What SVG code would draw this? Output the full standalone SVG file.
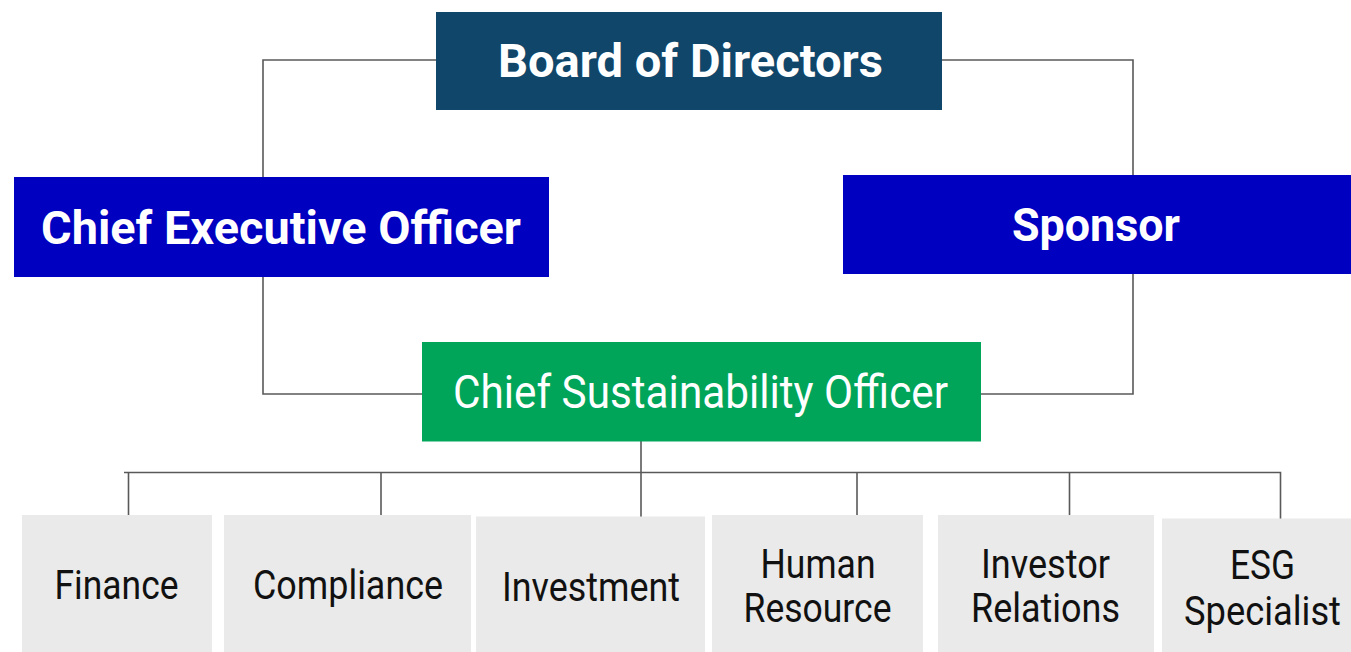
<svg xmlns="http://www.w3.org/2000/svg" width="1351" height="652" viewBox="0 0 1351 652">
<style>
.bold{font-family:Roboto,"Liberation Sans",sans-serif;font-weight:bold;font-size:46px;fill:#fff;text-anchor:middle}
.reg{font-family:Roboto,"Liberation Sans",sans-serif;font-size:46px;fill:#fff;text-anchor:middle}
.dept{font-family:Roboto,"Liberation Sans",sans-serif;font-size:40px;fill:#111;text-anchor:middle}
.box{fill:#eaeaea}
.conn{fill:none;stroke:#595959;stroke-width:1.6}
</style>
<rect width="1351" height="652" fill="#fff"/>
<g id="connectors">
<path class="conn" d="M436,60 H263 V177"/>
<path class="conn" d="M942,60 H1133 V175"/>
<path class="conn" d="M263,277 V394 H422"/>
<path class="conn" d="M1133,274 V394 H981"/>
<path class="conn" d="M641,441 V517"/>
<path class="conn" d="M124,472.5 H1280.5 V521"/>
<path class="conn" d="M128.5,472.5 V515"/>
<path class="conn" d="M381,472.5 V515"/>
<path class="conn" d="M857,472.5 V515"/>
<path class="conn" d="M1069.5,472.5 V515"/>
</g>
<g id="board">
<rect x="436" y="12" width="506" height="98" fill="#10466a"/>
<text class="bold" x="690.5" y="77" textLength="385" lengthAdjust="spacingAndGlyphs">Board of Directors</text>
</g>
<g id="ceo">
<rect x="14" y="177" width="535" height="100" fill="#0000c0"/>
<text class="bold" x="281" y="244" textLength="480" lengthAdjust="spacingAndGlyphs">Chief Executive Officer</text>
</g>
<g id="sponsor">
<rect x="843" y="175" width="508" height="99" fill="#0000c0"/>
<text class="bold" x="1096" y="241" textLength="168" lengthAdjust="spacingAndGlyphs">Sponsor</text>
</g>
<g id="cso">
<rect x="422" y="342" width="559" height="99.5" fill="#00a55a"/>
<text class="reg" x="700.5" y="407.5" textLength="495" lengthAdjust="spacingAndGlyphs">Chief Sustainability Officer</text>
</g>
<g id="finance">
<rect class="box" x="22" y="515" width="190" height="137"/>
<text class="dept" x="116.5" y="599" textLength="124" lengthAdjust="spacingAndGlyphs">Finance</text>
</g>
<g id="compliance">
<rect class="box" x="224" y="515" width="247" height="137"/>
<text class="dept" x="348" y="599" textLength="190" lengthAdjust="spacingAndGlyphs">Compliance</text>
</g>
<g id="investment">
<rect class="box" x="476" y="516.5" width="229" height="136"/>
<text class="dept" x="591" y="600.5" textLength="178" lengthAdjust="spacingAndGlyphs">Investment</text>
</g>
<g id="human-resource">
<rect class="box" x="712" y="515" width="211" height="137"/>
<text class="dept" x="818" y="577.5" textLength="115" lengthAdjust="spacingAndGlyphs">Human</text>
<text class="dept" x="817.5" y="622" textLength="148" lengthAdjust="spacingAndGlyphs">Resource</text>
</g>
<g id="investor-relations">
<rect class="box" x="938" y="515" width="216" height="137"/>
<text class="dept" x="1045.5" y="577.5" textLength="129" lengthAdjust="spacingAndGlyphs">Investor</text>
<text class="dept" x="1045.5" y="622" textLength="149" lengthAdjust="spacingAndGlyphs">Relations</text>
</g>
<g id="esg-specialist">
<rect class="box" x="1162" y="518.5" width="189" height="134"/>
<text class="dept" x="1262.5" y="579" textLength="65" lengthAdjust="spacingAndGlyphs">ESG</text>
<text class="dept" x="1262.5" y="624.5" textLength="157" lengthAdjust="spacingAndGlyphs">Specialist</text>
</g>
</svg>
